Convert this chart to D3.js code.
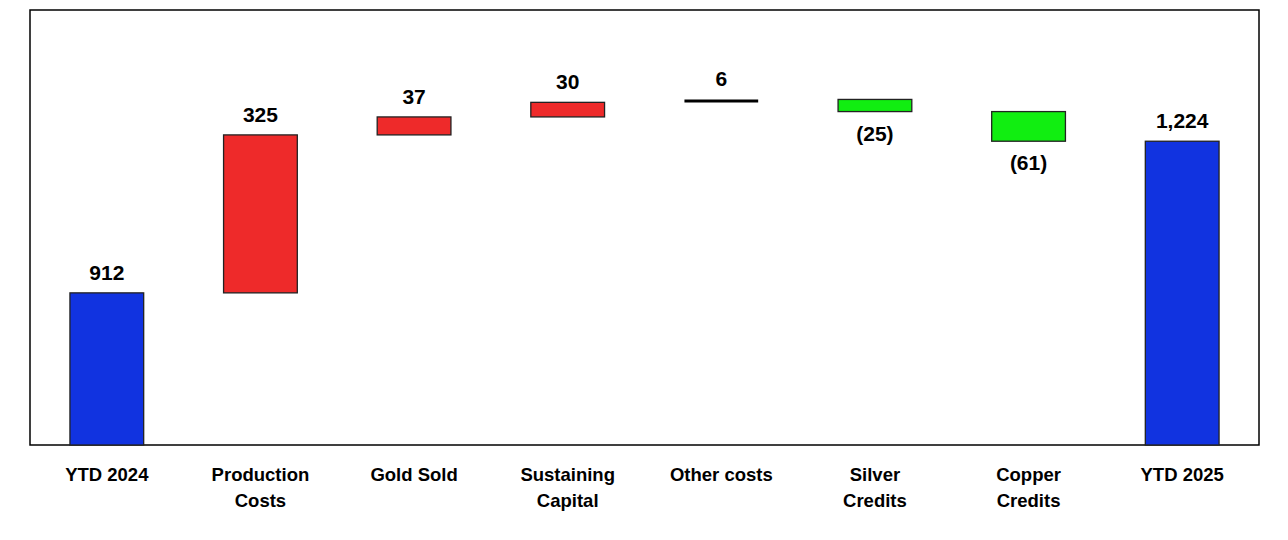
<!DOCTYPE html>
<html><head><meta charset="utf-8">
<script src="https://cdn.jsdelivr.net/npm/d3@7"></script>
<style>body{margin:0;background:#fff}text{font-family:"Liberation Sans",Arial,sans-serif;font-weight:bold}</style>
</head><body><svg id="c" width="1288" height="540"></svg>
<script>
const categories = [["YTD 2024"],["Production","Costs"],["Gold Sold"],["Sustaining","Capital"],["Other costs"],["Silver","Credits"],["Copper","Credits"],["YTD 2025"]];
const deltas = [912, 325, 37, 30, 6, -25, -61, 1224];
const kinds = ["total","delta","delta","delta","delta","delta","delta","total"];
const labels = ["912","325","37","30","6","(25)","(61)","1,224"];

const svg = d3.select("#c");
const L=30,R=1259,T=10,B=445;
const x = d3.scaleBand().domain(d3.range(8)).range([L,R]).paddingInner(0.52).paddingOuter(0.26);
const y = d3.scaleLinear().domain([599,1494]).range([B,T]);
svg.append("rect").attr("x",L).attr("y",T).attr("width",R-L).attr("height",B-T).attr("fill","none").attr("stroke","#000").attr("stroke-width",1.5);
let cum=0; const bars=[];
deltas.forEach((d,i)=>{
  let lo,hi;
  if(kinds[i]==="total"){lo=599;hi=d;cum=d;}
  else{const s=cum;cum+=d;lo=Math.min(s,cum);hi=Math.max(s,cum);}
  bars.push({i,lo,hi,d,k:kinds[i]});
});
const col=b=>b.k==="total"?"#1133e0":(b.d>0?"#ee2a2a":"#11ee11");
bars.forEach(b=>{
  const xx=x(b.i), w=x.bandwidth();
  if(b.i===4){
    svg.append("line").attr("x1",xx).attr("x2",xx+w).attr("y1",y((b.lo+b.hi)/2)).attr("y2",y((b.lo+b.hi)/2)).attr("stroke","#000").attr("stroke-width",3);
  } else {
    svg.append("rect").attr("x",xx).attr("y",y(b.hi)).attr("width",w).attr("height",y(b.lo)-y(b.hi)).attr("fill",col(b)).attr("stroke","#222").attr("stroke-width",1.3);
  }
  const cx=xx+w/2;
  const neg=b.k==="delta"&&b.d<0;
  svg.append("text").attr("x",cx).attr("y",neg?y(b.lo)+29:y(b.hi)-13).attr("text-anchor","middle").attr("font-size",21).text(labels[b.i]);
  categories[b.i].forEach((t,j)=>svg.append("text").attr("x",cx).attr("y",481+j*26).attr("text-anchor","middle").attr("font-size",18.5).text(t));
});
</script></body></html>
